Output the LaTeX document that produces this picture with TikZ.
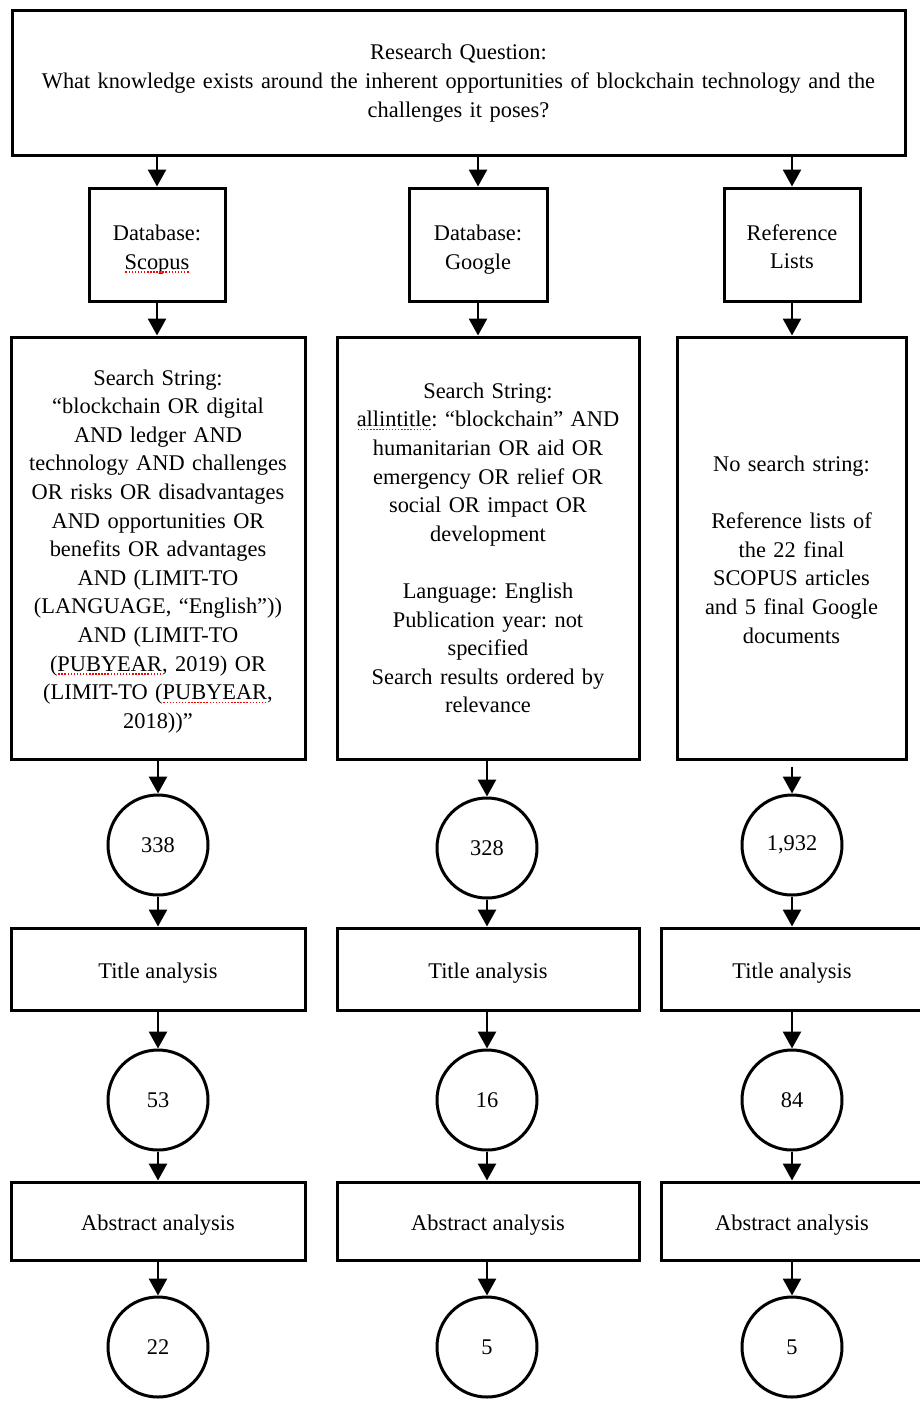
\documentclass[tikz,border=0pt]{standalone}
\usepackage{fontspec}
\setmainfont{Liberation Serif}
\usetikzlibrary{arrows.meta}
\frenchspacing
\newcommand\spellul[1]{\leavevmode\setbox0\hbox{#1}\rlap{\copy0}\textcolor{red}{\hbox to\wd0{\xleaders\hbox to 3pt{\hss\rule[-3.5pt]{1.5pt}{1.5pt}\hss}\hfill}}}
\newcommand\fs{\fontsize{22.4}{28.6}\selectfont\frenchspacing}
\tikzset{
  box/.style={draw, line width=3pt, inner sep=0pt, align=center, font=\fs},
  oneline/.style={text height=24pt, text depth=5pt},
  rnd/.style={draw, circle, line width=3pt, minimum size=100pt, inner sep=0pt, font=\fs},
  arr/.style={-{Triangle[width=18pt,length=17pt]}, line width=2.8pt},
}
\begin{document}
\begin{tikzpicture}[x=1pt,y=-1pt]
\useasboundingbox (0,0) rectangle (920,1414);
% top
\node[box, minimum width=893pt, minimum height=145pt, text width=880pt] (rq) at (458.5,83)
  {\rule{0pt}{16pt}Research Question:\\\resizebox{833pt}{\height}{What knowledge exists around the inherent opportunities of blockchain technology and the}\\challenges it poses?};
% databases
\node[box, minimum width=136pt, minimum height=113pt, text width=130pt] (db1) at (157,244.5) {\rule{0pt}{26pt}Database:\\\spellul{Scopus}};
\node[box, minimum width=138pt, minimum height=113pt, text width=130pt] (db2) at (478,244.5) {\rule{0pt}{26pt}Database:\\Google};
\node[box, minimum width=136pt, minimum height=113pt, text width=130pt] (db3) at (792,244.5) {\rule{0pt}{20pt}Reference\\Lists};
% search strings
\node[box, minimum width=294pt, minimum height=422pt, text width=292pt] (s1) at (158,548)
  {\rule{0pt}{22pt}Search String:\\“blockchain OR digital\\AND ledger AND\\technology AND challenges\\OR risks OR disadvantages\\AND opportunities OR\\benefits OR advantages\\AND (LIMIT-TO\\(LANGUAGE, “English”))\\AND (LIMIT-TO\\(\spellul{PUBYEAR}, 2019) OR\\(LIMIT-TO (\spellul{PUBYEAR},\\2018))”};
\node[box, minimum width=302pt, minimum height=422pt, text width=298pt] (s2) at (488,548)
  {Search String:\\\spellul{allintitle}: “blockchain” AND\\humanitarian OR aid OR\\emergency OR relief OR\\social OR impact OR\\development\\[28.6pt]Language: English\\Publication year: not\\specified\\Search results ordered by\\relevance};
\node[box, minimum width=229pt, minimum height=422pt, text width=226pt] (s3) at (791.5,548)
  {\rule{0pt}{19pt}No search string:\\[28.6pt]Reference lists of\\the 22 final\\SCOPUS articles\\and 5 final Google\\documents};
% first counts
\node[rnd] (c1) at (158,845) {338};
\node[rnd] (c2) at (487,848) {328};
\node[rnd] (c3) at (792,845) {1,932};
% title analysis
\node[box, oneline, minimum width=294pt, minimum height=82pt] (t1) at (158,969) {Title analysis};
\node[box, oneline, minimum width=302pt, minimum height=82pt] (t2) at (488,969) {Title analysis};
\node[box, oneline, minimum width=262pt, minimum height=82pt] (t3) at (792,969) {Title analysis};
% second counts
\node[rnd] (n1) at (158,1100) {53};
\node[rnd] (n2) at (487,1100) {16};
\node[rnd] (n3) at (792,1100) {84};
% abstract analysis
\node[box, oneline, minimum width=294pt, minimum height=78pt] (a1) at (158,1221) {Abstract analysis};
\node[box, oneline, minimum width=302pt, minimum height=78pt] (a2) at (488,1221) {Abstract analysis};
\node[box, oneline, minimum width=262pt, minimum height=78pt] (a3) at (792,1221) {Abstract analysis};
% final counts
\node[rnd] (f1) at (158,1347) {22};
\node[rnd] (f2) at (487,1347) {5};
\node[rnd] (f3) at (792,1347) {5};
% arrows
\draw[arr] (db1.north |- rq.south) -- (db1.north);
\draw[arr] (db2.north |- rq.south) -- (db2.north);
\draw[arr] (db3.north |- rq.south) -- (db3.north);
\draw[arr] (db1.south) -- (db1.south |- s1.north);
\draw[arr] (db2.south) -- (db2.south |- s2.north);
\draw[arr] (db3.south) -- (db3.south |- s3.north);
\draw[arr] (c1.north |- s1.south) -- (c1.north);
\draw[arr] (c2.north |- s2.south) -- (c2.north);
\draw[arr, shorten <=6pt] (c3.north |- s3.south) -- (c3.north);
\draw[arr] (c1.south) -- (c1.south |- t1.north);
\draw[arr] (c2.south) -- (c2.south |- t2.north);
\draw[arr] (c3.south) -- (c3.south |- t3.north);
\draw[arr] (n1.north |- t1.south) -- (n1.north);
\draw[arr] (n2.north |- t2.south) -- (n2.north);
\draw[arr] (n3.north |- t3.south) -- (n3.north);
\draw[arr] (n1.south) -- (n1.south |- a1.north);
\draw[arr] (n2.south) -- (n2.south |- a2.north);
\draw[arr] (n3.south) -- (n3.south |- a3.north);
\draw[arr] (f1.north |- a1.south) -- (f1.north);
\draw[arr] (f2.north |- a2.south) -- (f2.north);
\draw[arr] (f3.north |- a3.south) -- (f3.north);
\end{tikzpicture}
\end{document}
